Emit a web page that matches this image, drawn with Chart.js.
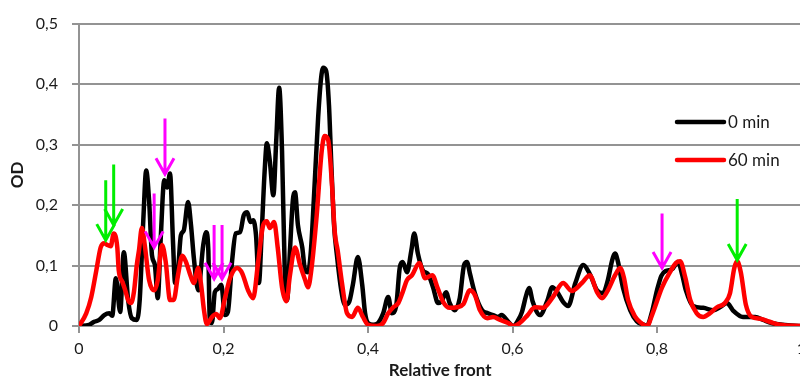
<!DOCTYPE html>
<html><head><meta charset="utf-8">
<script src="https://cdn.jsdelivr.net/npm/chart.js@4/dist/chart.umd.min.js"></script>
<style>
html,body{margin:0;padding:0;overflow:hidden;background:#fff;width:800px;height:376px}
#wrap{position:absolute;left:0;top:0;width:820px;height:390px}
</style>
</head><body><div id="wrap"><canvas id="c" width="820" height="390"></canvas></div>
<script>
const series0Label = '0 min';
const series60Label = '60 min';
const xTitle = 'Relative front';
const yTitle = 'OD';

const x0 = [0,0.014,0.021,0.028,0.035,0.042,0.046,0.051,0.057,0.062,0.068,0.073,0.080,0.084,0.089,0.093,0.097,0.101,0.105,0.109,0.113,0.118,0.122,0.126,0.130,0.133,0.137,0.141,0.145,0.151,0.155,0.159,0.165,0.172,0.176,0.179,0.181,0.184,0.188,0.192,0.197,0.202,0.206,0.212,0.217,0.223,0.228,0.233,0.237,0.241,0.245,0.249,0.253,0.257,0.260,0.264,0.269,0.273,0.277,0.281,0.285,0.288,0.292,0.296,0.299,0.303,0.309,0.313,0.317,0.321,0.325,0.331,0.335,0.338,0.342,0.346,0.349,0.353,0.357,0.363,0.368,0.374,0.379,0.386,0.392,0.396,0.400,0.407,0.414,0.421,0.428,0.433,0.439,0.444,0.448,0.454,0.460,0.464,0.469,0.476,0.483,0.490,0.497,0.502,0.508,0.513,0.520,0.527,0.533,0.537,0.541,0.548,0.558,0.566,0.573,0.580,0.585,0.594,0.601,0.608,0.613,0.619,0.623,0.628,0.638,0.648,0.655,0.662,0.670,0.677,0.687,0.698,0.707,0.717,0.725,0.732,0.738,0.742,0.746,0.753,0.763,0.772,0.782,0.786,0.793,0.800,0.806,0.812,0.821,0.829,0.835,0.840,0.850,0.864,0.878,0.887,0.897,0.905,0.919,0.936,0.947,0.959,0.974,1.0];
const y0 = [0,0.002,0.007,0.010,0.018,0.021,0.017,0.079,0.023,0.122,0.043,0.013,0.010,0.043,0.175,0.257,0.208,0.117,0.101,0.046,0.142,0.241,0.229,0.252,0.142,0.071,0.092,0.150,0.158,0.205,0.167,0.112,0.059,0.134,0.155,0.125,0.007,0.005,0.056,0.061,0.068,0.018,0.023,0.109,0.153,0.155,0.183,0.188,0.172,0.175,0.150,0.071,0.158,0.257,0.302,0.274,0.216,0.307,0.394,0.290,0.081,0.043,0.125,0.208,0.221,0.167,0.130,0.092,0.089,0.125,0.208,0.345,0.409,0.427,0.422,0.365,0.274,0.167,0.117,0.059,0.035,0.040,0.068,0.114,0.068,0.021,0.005,0.002,0.005,0.021,0.048,0.021,0.033,0.097,0.106,0.089,0.125,0.153,0.120,0.092,0.086,0.064,0.038,0.041,0.056,0.038,0.026,0.046,0.101,0.106,0.087,0.054,0.026,0.021,0.018,0.015,0.018,0.007,0,0.010,0.023,0.051,0.063,0.040,0.018,0.041,0.064,0.056,0.040,0.033,0.071,0.101,0.086,0.059,0.054,0.076,0.109,0.120,0.106,0.063,0.026,0.008,0.002,0,0.023,0.059,0.083,0.091,0.094,0.106,0.084,0.059,0.033,0.030,0.026,0.031,0.038,0.026,0.015,0.015,0.010,0.005,0.002,0];

const x60 = [0,0.010,0.017,0.024,0.030,0.035,0.039,0.044,0.048,0.053,0.055,0.060,0.064,0.068,0.072,0.076,0.080,0.083,0.087,0.091,0.097,0.104,0.109,0.115,0.120,0.126,0.131,0.137,0.143,0.148,0.155,0.159,0.165,0.169,0.173,0.177,0.184,0.190,0.195,0.202,0.209,0.219,0.226,0.234,0.241,0.248,0.255,0.260,0.264,0.270,0.275,0.281,0.287,0.292,0.299,0.306,0.313,0.317,0.322,0.329,0.336,0.340,0.345,0.350,0.354,0.358,0.364,0.371,0.378,0.386,0.393,0.400,0.412,0.421,0.428,0.435,0.442,0.448,0.454,0.461,0.471,0.479,0.489,0.496,0.504,0.513,0.523,0.532,0.541,0.548,0.555,0.565,0.573,0.583,0.594,0.601,0.610,0.621,0.631,0.642,0.656,0.670,0.682,0.696,0.707,0.717,0.724,0.732,0.742,0.749,0.754,0.760,0.770,0.778,0.786,0.794,0.807,0.818,0.826,0.832,0.839,0.846,0.855,0.864,0.873,0.883,0.894,0.901,0.907,0.911,0.916,0.923,0.931,0.943,0.956,0.970,1.0];
const y60 = [0,0.021,0.048,0.092,0.130,0.137,0.134,0.132,0.153,0.130,0.092,0.073,0.059,0.043,0.038,0.056,0.101,0.125,0.162,0.134,0.076,0.059,0.076,0.134,0.106,0.043,0.043,0.084,0.116,0.106,0.081,0.071,0.096,0.068,0.026,0.003,0.015,0.020,0.013,0.046,0.079,0.096,0.087,0.059,0.046,0.106,0.167,0.173,0.162,0.172,0.130,0.064,0.041,0.084,0.130,0.101,0.076,0.064,0.097,0.183,0.290,0.314,0.307,0.236,0.155,0.125,0.071,0.021,0.015,0.030,0.015,0.002,0,0.005,0.021,0.031,0.038,0.056,0.076,0.084,0.104,0.079,0.084,0.064,0.040,0.030,0.031,0.036,0.059,0.051,0.026,0.013,0.015,0.010,0.005,0,0.005,0.018,0.031,0.030,0.048,0.071,0.058,0.071,0.084,0.056,0.046,0.059,0.084,0.096,0.081,0.043,0.015,0.005,0,0.021,0.064,0.089,0.104,0.107,0.081,0.043,0.021,0.015,0.021,0.031,0.038,0.054,0.096,0.107,0.089,0.035,0.015,0.012,0.007,0.002,0];

const xTickValues = [0,0.2,0.4,0.6,0.8,1];
const xTickLabels = ['0','0,2','0,4','0,6','0,8','1'];
const yTickValues = [0,0.1,0.2,0.3,0.4,0.5];
const yTickLabels = ['0','0,1','0,2','0,3','0,4','0,5'];

// annotation arrows (data units): x position, tip value, tail value, kind
const arrowX    = [0.037,0.048,0.911,0.119,0.104,0.187,0.198,0.807];
const arrowTip  = [0.142,0.167,0.109,0.251,0.130,0.078,0.078,0.096];
const arrowTail = [0.241,0.267,0.210,0.343,0.219,0.167,0.167,0.186];
const arrowKind = ['green','green','green','magenta','magenta','magenta','magenta','magenta'];

const arrowColors = {green:'#00ee00', magenta:'#ff00ff'};
const gridColor = '#939393';
const textColor = '#1a1a1a';
const FONT = 'Lato, "Open Sans", sans-serif';

const arrowPlugin = {
  id:'arrows',
  afterDatasetsDraw(chart){
    const {ctx, scales:{x, y}} = chart;
    ctx.save();
    ctx.lineWidth = 3;
    ctx.lineCap = 'butt';
    ctx.lineJoin = 'miter';
    for (let i=0;i<arrowX.length;i++){
      const px = x.getPixelForValue(arrowX[i]);
      const tip = y.getPixelForValue(arrowTip[i]);
      const tail = y.getPixelForValue(arrowTail[i]);
      ctx.strokeStyle = arrowColors[arrowKind[i]];
      ctx.beginPath();
      ctx.moveTo(px, tail); ctx.lineTo(px, tip);
      ctx.moveTo(px-9, tip-16); ctx.lineTo(px, tip); ctx.lineTo(px+9, tip-16);
      ctx.stroke();
    }
    ctx.restore();
  }
};

const legendPlugin = {
  id:'insideLegend',
  afterDraw(chart){
    const ctx = chart.ctx;
    const items = [[series0Label,'#000000',122],[series60Label,'#ff0000',160]];
    ctx.save();
    ctx.font = '17px ' + FONT;
    ctx.textBaseline = 'middle';
    ctx.textAlign = 'left';
    for (const [label,color,yy] of items){
      ctx.strokeStyle = color; ctx.lineWidth = 4.5; ctx.lineCap='round';
      ctx.beginPath(); ctx.moveTo(677,yy); ctx.lineTo(724,yy); ctx.stroke();
      ctx.fillStyle = textColor;
      ctx.fillText(label, 728, yy+1);
    }
    ctx.restore();
  }
};

new Chart(document.getElementById('c').getContext('2d'), {
  type:'line',
  data:{datasets:[
    {label:series0Label, data:x0.map((v,i)=>({x:v,y:y0[i]})), borderColor:'#000000', borderWidth:4.5, pointRadius:0, cubicInterpolationMode:'monotone', borderJoinStyle:'round', borderCapStyle:'round', order:2},
    {label:series60Label, data:x60.map((v,i)=>({x:v,y:y60[i]})), borderColor:'#ff0000', borderWidth:4.5, pointRadius:0, cubicInterpolationMode:'monotone', borderJoinStyle:'round', borderCapStyle:'round', order:1}
  ]},
  options:{
    responsive:false, animation:false, devicePixelRatio:1,
    layout:{padding:{top:23,right:18.5,bottom:0,left:0}},
    plugins:{legend:{display:false}, tooltip:{enabled:false}},
    scales:{
      x:{type:'linear', min:0, max:1,
        afterBuildTicks:s=>{s.ticks = xTickValues.map(v=>({value:v}));},
        afterFit:s=>{s.height = 64;},
        ticks:{callback:(v,i)=>xTickLabels[i], font:{family:FONT,size:16}, color:textColor, padding:6.5, maxRotation:0, autoSkip:false},
        grid:{drawOnChartArea:false, drawTicks:true, tickLength:7, color:gridColor, lineWidth:2},
        border:{display:true, color:gridColor, width:2},
        title:{display:true, text:xTitle, color:textColor, font:{family:FONT,size:17,weight:'bold'}, padding:{top:0,bottom:9}}
      },
      y:{type:'linear', min:0, max:0.5,
        afterBuildTicks:s=>{s.ticks = yTickValues.map(v=>({value:v}));},
        afterFit:s=>{s.width = 79;},
        ticks:{callback:(v,i)=>yTickLabels[i], font:{family:FONT,size:16}, color:textColor, padding:14},
        grid:{color:gridColor, lineWidth:2, tickLength:7},
        border:{display:true, color:gridColor, width:2},
        title:{display:true, text:yTitle, color:textColor, font:{family:FONT,size:17,weight:'bold'}, padding:{top:7.8,bottom:0}}
      }
    }
  },
  plugins:[arrowPlugin, legendPlugin]
});
</script>
</body></html>
